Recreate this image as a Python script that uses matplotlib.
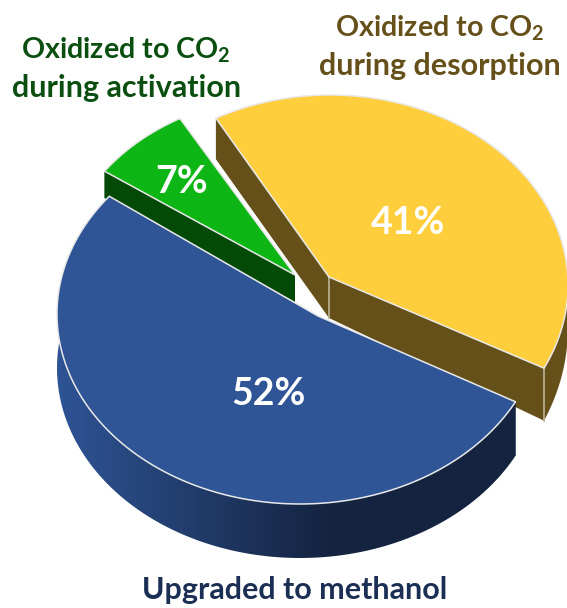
import numpy as np
import matplotlib
matplotlib.use("Agg")
import matplotlib.pyplot as plt
from matplotlib.colors import to_rgb
from matplotlib.patches import Polygon

plt.rcParams['font.family'] = ['Lato', 'DejaVu Sans']
plt.rcParams['mathtext.fontset'] = 'custom'
plt.rcParams['mathtext.bf'] = 'Lato:bold'
plt.rcParams['mathtext.rm'] = 'Lato:bold'

# slices, clockwise from the right hand corner of the blue one
names = ["Upgraded to methanol", "Oxidized to CO2 during activation", "Oxidized to CO2 during desorption"]
values = [52, 7, 41]

top_colors = ["#2F5597", "#0DB614", "#FFCE3C"]
wall_colors = ["#14233F", "#044A07", "#655019"]
label_colors = ["#1B2F55", "#0A4F10", "#66501A"]

start_angle = 28.0
blue_turn = 1.0

# each slice has its own ellipse on the page (cx, cy, rx, ry) and its own tip
ellipses = [(300, 314, 243, 190), (295, 275, 233, 180), (330, 285, 238, 190)]
tips = [(318, 316), (295, 275), (329, 277)]


def project(theta, ell, tip):
    # perspective view of the unit disc: the disc centre lands on the tip,
    # the disc edge lands on the ellipse
    ex0, ey0, rx, ry = ell
    beta = np.array([(tip[0] - ex0) / rx, (tip[1] - ey0) / ry])
    b = np.linalg.norm(beta)
    if b < 1e-6:
        return np.column_stack([ex0 + rx * np.cos(theta), ey0 + ry * np.sin(theta)])
    u = beta / b
    px, py = np.cos(theta), np.sin(theta)
    par = px * u[0] + py * u[1]
    perp = -px * u[1] + py * u[0]
    d = 1 + b * par
    e_par = (par + b) / d
    e_perp = perp * np.sqrt(1 - b * b) / d
    ex = e_par * u[0] - e_perp * u[1]
    ey = e_par * u[1] + e_perp * u[0]
    return np.column_stack([ex0 + rx * ex, ey0 + ry * ey])


def depth_at(i, y):
    # wall height per slice; the yellow one gets taller toward the viewer
    if i == 0:
        return np.full_like(y, 54.0)
    if i == 1:
        return np.full_like(y, 27.0)
    return np.interp(y, [119, 277, 372], [41, 41, 53])


fig = plt.figure(figsize=(5.67, 6.08), dpi=100)
ax = fig.add_axes([0, 0, 1, 1])

angles = np.cumsum([0] + [v * 3.6 for v in values]) + start_angle

# back to front: green, yellow, blue
for i, z in zip([1, 2, 0], [2, 4, 6]):
    turn = blue_turn if i == 0 else 0.0
    th = np.radians(np.linspace(angles[i], angles[i + 1], 200) + turn)
    rim = project(th, ellipses[i], tips[i])
    tip = np.array(tips[i], dtype=float)

    drop = np.column_stack([np.zeros(len(rim)), depth_at(i, rim[:, 1])])
    low_rim = rim + drop
    tip_low = tip + [0, depth_at(i, np.array([tip[1]]))[0]]

    # outer wall
    band = np.vstack([rim, low_rim[::-1]])
    if i == 0:
        # the blue wall darkens from left to right
        grad = np.linspace(0, 1, 256)[None, :]
        c0 = np.array(to_rgb("#2F5597"))
        c1 = np.array(to_rgb(wall_colors[0]))
        ramp = np.clip(grad / 0.58, 0, 1)[..., None]
        img = c0 * (1 - ramp) + c1 * ramp
        im = ax.imshow(img, extent=[50, 540, 570, 300], aspect="auto", zorder=z)
        clip = Polygon(band, closed=True, transform=ax.transData, fc="none", ec="none")
        ax.add_patch(clip)
        im.set_clip_path(clip)
    else:
        ax.add_patch(Polygon(band, closed=True, fc=wall_colors[i], ec="none", zorder=z))

    # flat cut faces running in from the two ends of the rim
    for k in (0, -1):
        face = np.array([tip, rim[k], low_rim[k], tip_low])
        ax.add_patch(Polygon(face, closed=True, fc=wall_colors[i], ec="none", zorder=z + 0.1))

    # top face
    top = np.vstack([tip, rim])
    ax.add_patch(Polygon(top, closed=True, fc=top_colors[i], ec="#E8E8E8", lw=1.1,
                         joinstyle="round", zorder=z + 0.2))

    # pale corner lines on the yellow block
    if i == 2:
        ax.plot([tip[0], tip_low[0]], [tip[1], tip_low[1]], color="#BDB49A", lw=1.2, zorder=z + 0.15)
        ax.plot([rim[-1, 0], low_rim[-1, 0]], [rim[-1, 1], low_rim[-1, 1]], color="#BDB49A", lw=1.2, zorder=z + 0.15)

ax.set_xlim(0, 567)
ax.set_ylim(608, 0)
ax.axis("off")

sub = r"Oxidized to CO$_{\mathbf{2}}$"
fs1 = 20.6
fs2 = 22
ax.text(126, 50, sub, color=label_colors[1], fontsize=fs1, fontweight="bold", ha="center", va="center", zorder=10)
ax.text(127, 88, "during activation", color=label_colors[1], fontsize=fs2, fontweight="bold", ha="center", va="center", zorder=10)
ax.text(440, 28, sub, color=label_colors[2], fontsize=fs1, fontweight="bold", ha="center", va="center", zorder=10)
ax.text(440, 66, "during desorption", color=label_colors[2], fontsize=fs2, fontweight="bold", ha="center", va="center", zorder=10)
ax.text(295, 590, names[0], color=label_colors[0], fontsize=fs2, fontweight="bold", ha="center", va="center", zorder=10)

pct_pos = [(269, 394), (182, 182), (408, 223)]
for v, pos in zip(values, pct_pos):
    ax.text(pos[0], pos[1], f"{v}%", color="white", fontsize=27, fontweight="bold", ha="center", va="center", zorder=10)

fig.savefig("out.png", dpi=100)
